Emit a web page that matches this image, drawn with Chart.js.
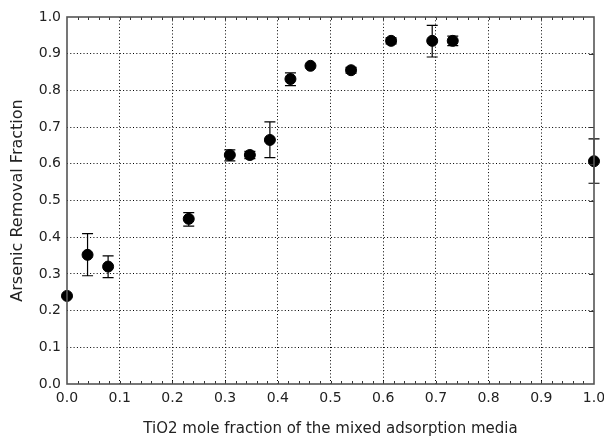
<!DOCTYPE html>
<html>
<head>
<meta charset="utf-8">
<script src="https://cdn.jsdelivr.net/npm/chart.js@4/dist/chart.umd.min.js"></script>
<style>
  html, body { margin: 0; padding: 0; background: #fff; }
  #wrap { width: 604px; height: 439px; }
</style>
</head>
<body>
<div id="wrap"><canvas id="removalChart"></canvas></div>
<script>
// TiO2 mole fraction vs arsenic removal, with error bars
const tio2Fraction = [0.0, 0.039, 0.078, 0.231, 0.309, 0.347, 0.385, 0.424, 0.462, 0.539, 0.615, 0.693, 0.732, 1.0];
const removal      = [0.24, 0.352, 0.32, 0.45, 0.624, 0.624, 0.665, 0.831, 0.867, 0.855, 0.935, 0.935, 0.935, 0.607];
const errLow       = [0.24, 0.295, 0.29, 0.43, 0.608, 0.614, 0.617, 0.813, 0.867, 0.847, 0.927, 0.891, 0.922, 0.547];
const errHigh      = [0.24, 0.41, 0.349, 0.467, 0.638, 0.634, 0.714, 0.848, 0.867, 0.863, 0.943, 0.977, 0.948, 0.668];
const xTicks = [0, 0.1, 0.2, 0.3, 0.4, 0.5, 0.6, 0.7, 0.8, 0.9, 1.0];

const points = tio2Fraction.map((x, i) => ({x: x, y: removal[i]}));

const fontFamily = '"DejaVu Sans", sans-serif';

// error bars + frame + minor ticks, drawn with the chart's own scales
const extras = {
  id: 'extras',
  beforeDatasetsDraw(chart) {
    const {ctx, scales: {x, y}} = chart;
    ctx.save();
    ctx.strokeStyle = '#000';
    ctx.lineWidth = 1.2;
    tio2Fraction.forEach((v, i) => {
      if (errHigh[i] - errLow[i] <= 0) return;
      const px = x.getPixelForValue(v);
      const top = y.getPixelForValue(errHigh[i]);
      const bot = y.getPixelForValue(errLow[i]);
      ctx.beginPath();
      ctx.moveTo(px, top); ctx.lineTo(px, bot);
      ctx.moveTo(px - 5.5, top); ctx.lineTo(px + 5.5, top);
      ctx.moveTo(px - 5.5, bot); ctx.lineTo(px + 5.5, bot);
      ctx.stroke();
    });
    ctx.restore();
  },
  afterDraw(chart) {
    const {ctx, chartArea: a, scales: {x, y}} = chart;
    ctx.save();
    // minor ticks top & bottom
    ctx.strokeStyle = '#333';
    ctx.lineWidth = 1;
    for (let k = 1; k < 50; k++) {
      const px = Math.round(x.getPixelForValue(k * 0.02)) + 0.5;
      ctx.beginPath();
      ctx.moveTo(px, a.bottom); ctx.lineTo(px, a.bottom - 3);
      ctx.moveTo(px, a.top); ctx.lineTo(px, a.top + 3);
      ctx.stroke();
    }
    // right side ticks
    for (let k = 1; k < 10; k++) {
      const py = Math.round(y.getPixelForValue(k / 10)) + 0.5;
      ctx.beginPath();
      ctx.moveTo(a.right, py); ctx.lineTo(a.right - 5, py);
      ctx.stroke();
    }
    // frame
    ctx.strokeStyle = '#555';
    ctx.lineWidth = 1.6;
    ctx.strokeRect(a.left, a.top, a.right - a.left, a.bottom - a.top);
    ctx.restore();
  }
};

const gridColor = (c) => (c.index === 0 || c.index === 10) ? 'rgba(0,0,0,0)' : '#000';

new Chart(document.getElementById('removalChart'), {
  type: 'scatter',
  data: {
    datasets: [{
      data: points,
      backgroundColor: '#000',
      borderColor: '#000',
      pointRadius: 5.5,
      pointHoverRadius: 5.5,
      clip: false
    }]
  },
  options: {
    responsive: true,
    maintainAspectRatio: false,
    animation: false,
    layout: { padding: { top: 17, right: 10, left: 0, bottom: 0 } },
    plugins: {
      legend: { display: false },
      tooltip: { enabled: false }
    },
    scales: {
      x: {
        type: 'linear',
        min: 0, max: 1,
        afterBuildTicks: (s) => { s.ticks = xTicks.map(v => ({value: v})); },
        afterFit: (s) => { s.height = 55; s.paddingLeft = 0; s.paddingRight = 0; },
        ticks: {
          color: '#222',
          font: { family: fontFamily, size: 14 },
          padding: 6,
          maxRotation: 0,
          callback: (v) => Number(v).toFixed(1)
        },
        grid: { color: gridColor, lineWidth: 1, drawTicks: false },
        border: { display: false, dash: [1, 2.3] },
        title: {
          display: true,
          text: 'TiO2 mole fraction of the mixed adsorption media',
          color: '#222',
          font: { family: fontFamily, size: 15 },
          padding: { top: 0, bottom: 1 }
        }
      },
      y: {
        type: 'linear',
        min: 0, max: 1,
        afterBuildTicks: (s) => { s.ticks = xTicks.map(v => ({value: v})); },
        afterFit: (s) => { s.width = 67; s.paddingTop = 0; s.paddingBottom = 0; },
        ticks: {
          color: '#222',
          font: { family: fontFamily, size: 14 },
          padding: 6,
          callback: (v) => Number(v).toFixed(1)
        },
        grid: { color: gridColor, lineWidth: 1, drawTicks: false },
        border: { display: false, dash: [1, 2.3] },
        title: {
          display: true,
          text: 'Arsenic Removal Fraction',
          color: '#222',
          font: { family: fontFamily, size: 16 },
          padding: { top: 8, bottom: 0 }
        }
      }
    }
  },
  plugins: [extras]
});
</script>
</body>
</html>
